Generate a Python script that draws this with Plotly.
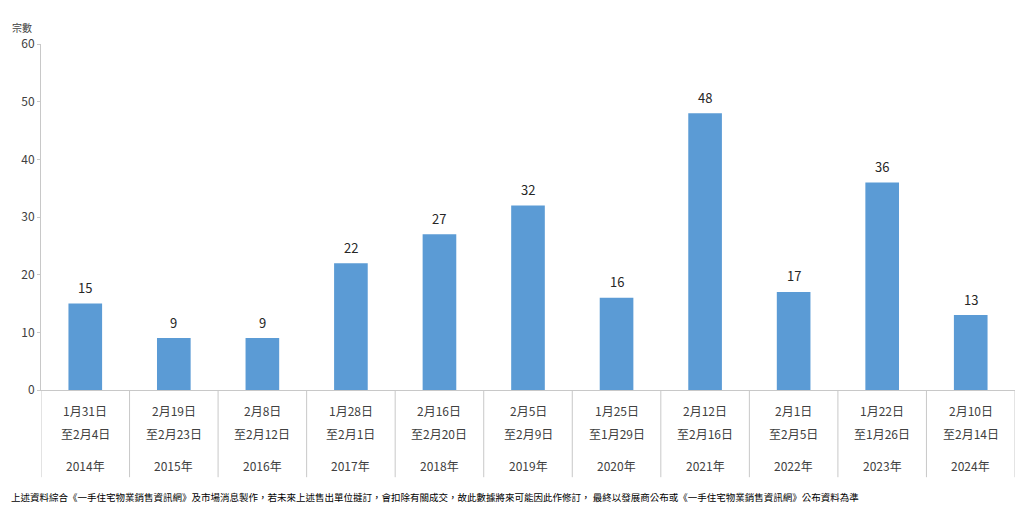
import plotly.graph_objects as go

years = ["2014年", "2015年", "2016年", "2017年", "2018年", "2019年", "2020年", "2021年", "2022年", "2023年", "2024年"]
start_dates = ["1月31日", "2月19日", "2月8日", "1月28日", "2月16日", "2月5日", "1月25日", "2月12日", "2月1日", "1月22日", "2月10日"]
end_dates = ["至2月4日", "至2月23日", "至2月12日", "至2月1日", "至2月20日", "至2月9日", "至1月29日", "至2月16日", "至2月5日", "至1月26日", "至2月14日"]
counts = [15, 9, 9, 22, 27, 32, 16, 48, 17, 36, 13]
y_ticks = [0, 10, 20, 30, 40, 50, 60]

FONT = "Noto Sans CJK TC"
GRID = "#c8c8c8"
TXT = "#404040"

x = list(range(len(years)))

fig = go.Figure()
fig.add_trace(go.Bar(
    x=x, y=counts, width=0.38,
    marker=dict(color="#5B9BD5", line=dict(width=0)),
    hoverinfo="skip",
))

annotations = []
for i in x:
    annotations.append(dict(x=i, y=counts[i], xref="x", yref="y", text=str(counts[i]), showarrow=False,
                            yanchor="middle", yshift=16, font=dict(family=FONT, size=13, color="#262626")))
    annotations.append(dict(x=i, y=0, xref="x", yref="y", text=start_dates[i], showarrow=False,
                            yshift=-20, font=dict(family=FONT, size=12, color=TXT)))
    annotations.append(dict(x=i, y=0, xref="x", yref="y", text=end_dates[i], showarrow=False,
                            yshift=-43, font=dict(family=FONT, size=12, color=TXT)))
    annotations.append(dict(x=i, y=0, xref="x", yref="y", text=years[i], showarrow=False,
                            yshift=-75, font=dict(family=FONT, size=12, color=TXT)))

annotations.append(dict(x=-0.5, y=60, xref="x", yref="y", text="宗數", showarrow=False,
                        xshift=-19, yshift=17, font=dict(family=FONT, size=10, color=TXT)))
annotations.append(dict(x=0, y=0, xref="paper", yref="paper", xanchor="left", yanchor="middle",
                        text="上述資料綜合《一手住宅物業銷售資訊網》及市場消息製作，若未來上述售出單位撻訂，會扣除有關成交，故此數據將來可能因此作修訂， 最終以發展商公布或《一手住宅物業銷售資訊網》公布資料為準",
                        showarrow=False, xshift=-32, yshift=-107,
                        font=dict(family=FONT, size=9.5, color="#000000")))

shapes = []
for i in range(len(years) + 1):
    shapes.append(dict(type="line", xref="x", yref="paper", x0=i - 0.5, x1=i - 0.5,
                       y0=0, y1=-0.252, line=dict(color=GRID, width=1)))

fig.update_layout(
    width=1020, height=502,
    margin=dict(l=33, r=13, t=36, b=120),
    plot_bgcolor="white", paper_bgcolor="white",
    showlegend=False,
    annotations=annotations, shapes=shapes,
    xaxis=dict(range=[-0.5, len(years) - 0.5], showticklabels=False, showgrid=False,
               zeroline=False, showline=True, linecolor=GRID, linewidth=1, ticks=""),
    yaxis=dict(range=[0, 60], tickvals=y_ticks, showgrid=False, zeroline=False,
               showline=True, linecolor=GRID, linewidth=1, ticks="outside", ticklen=3,
               tickcolor=GRID, tickfont=dict(family=FONT, size=12, color=TXT)),
)

fig.write_html("out.html")
